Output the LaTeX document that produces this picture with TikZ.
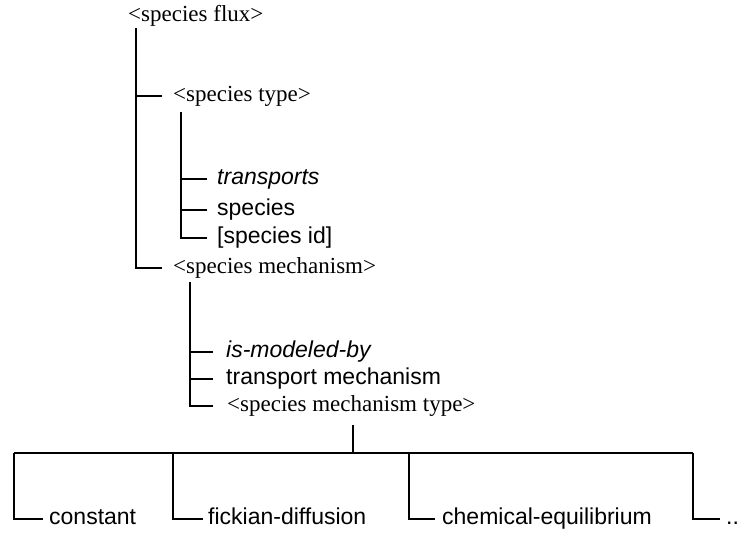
\documentclass[tikz,border=0pt]{standalone}
\usepackage{fontspec}
\setmainfont{Liberation Serif}
\newfontfamily\lsans{Liberation Sans}
\begin{document}
\begin{tikzpicture}[x=1bp,y=-1bp,
  lbl/.style={anchor=west, inner sep=0pt, text height=16.5bp, text depth=4.6bp},
  serifl/.style={lbl, font=\fontsize{23bp}{27bp}\selectfont},
  sansl/.style={lbl, font=\lsans\fontsize{23bp}{27bp}\selectfont},
  itall/.style={lbl, font=\lsans\itshape\fontsize{23bp}{27bp}\selectfont},
  conn/.style={draw=black, line width=1.8bp}]
\useasboundingbox (0,0) rectangle (740,533);
% nodes
\node[serifl] (flux) at (128,16) {<species flux>};
\node[serifl] (type) at (173,96) {<species type>};
\node[itall] (transp) at (217,179) {transports};
\node[sansl] (spec) at (217,210) {species};
\node[sansl] (sid) at (217,238) {[species id]};
\node[serifl] (mech) at (173,268) {<species mechanism>};
\node[itall] (ismod) at (226,352) {is-modeled-by};
\node[sansl] (tmech) at (226,379) {transport mechanism};
\node[serifl] (mtype) at (227,406) {<species mechanism type>};
\node[sansl] (const) at (49,519) {constant};
\node[sansl] (fick) at (208,519) {fickian-diffusion};
\node[sansl] (chem) at (442,519) {chemical-equilibrium};
\node[sansl] (more) at (726,519) {..};
% junction coordinates
\coordinate (a0) at (136,28);
\coordinate (b0) at (181,112);
\coordinate (c0) at (190,282);
\coordinate (d0) at (353,425);
\coordinate (bar) at (353,453);
\coordinate (l1) at (14,453);
\coordinate (l2) at (173,453);
\coordinate (l3) at (409,453);
\coordinate (l4) at (693,453);
% connectors
\draw[conn] (a0) |- ([xshift=-11bp]mech.west);
\draw[conn] (a0 |- type.west) -- ([xshift=-11bp]type.west);
\draw[conn] (b0) |- ([xshift=-10bp]sid.west);
\draw[conn] (b0 |- transp.west) -- ([xshift=-10bp]transp.west);
\draw[conn] (b0 |- spec.west) -- ([xshift=-10bp]spec.west);
\draw[conn] (c0) |- ([xshift=-14bp]mtype.west);
\draw[conn] (c0 |- ismod.west) -- ([xshift=-13bp]ismod.west);
\draw[conn] (c0 |- tmech.west) -- ([xshift=-13bp]tmech.west);
\draw[conn] (d0) -- (bar);
\draw[conn] (l1) -- (l4);
\draw[conn] (l1) |- ([xshift=-6bp]const.west);
\draw[conn] (l2) |- ([xshift=-5bp]fick.west);
\draw[conn] (l3) |- ([xshift=-7bp]chem.west);
\draw[conn] (l4) |- ([xshift=-6bp]more.west);
\end{tikzpicture}
\end{document}
